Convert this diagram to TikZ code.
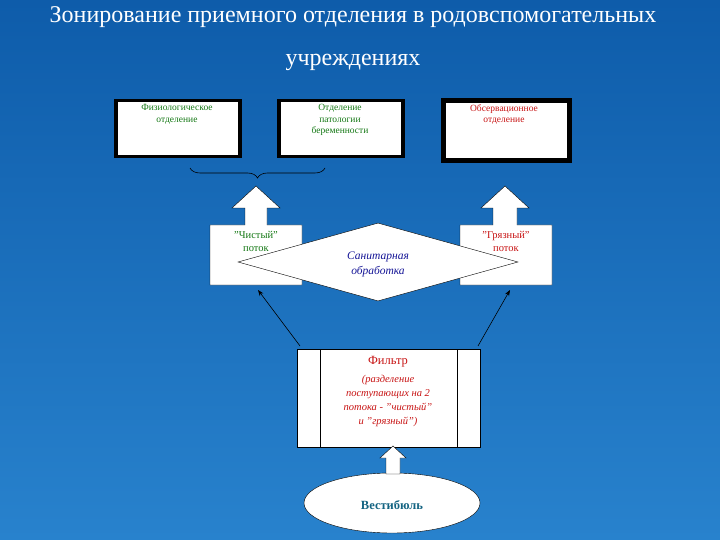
\documentclass[tikz,border=0pt]{standalone}
\usepackage{fontspec}
\setmainfont{Liberation Serif}
\usetikzlibrary{shapes.geometric,decorations.pathreplacing,arrows.meta}
\definecolor{bgtop}{RGB}{14,92,170}
\definecolor{bgbot}{RGB}{40,130,205}
\definecolor{grn}{RGB}{20,120,20}
\definecolor{rd}{RGB}{200,20,20}
\definecolor{bl}{RGB}{20,20,150}
\definecolor{teal}{RGB}{20,100,130}
\begin{document}
\begin{tikzpicture}[x=1pt,y=-1pt,
  dept/.style={draw=black,line width=3.5pt,fill=white,minimum width=124pt,minimum height=56pt,anchor=north west,inner sep=0pt},
  dtext/.style={font=\fontsize{9.5}{11.5}\selectfont,align=center,anchor=north},
  flow/.style={draw=black,fill=white,line width=0.4pt},
  thin/.style={-{Stealth[length=6pt]},line width=0.6pt,black}]
\shade[top color=bgtop,bottom color=bgbot] (0,0) rectangle (720,540);
\useasboundingbox (0,0) rectangle (720,540);
\node[white,font=\fontsize{24}{28}\selectfont] (t1) at (353,17) {Зонирование приемного отделения в родовспомогательных};
\node[white,font=\fontsize{24}{28}\selectfont] (t2) at (353,62) {учреждениях};
% departments
\node[dept] (b1) at (114,99) {};
\node[dept] (b2) at (277,99) {};
\node[dept,line width=5pt,minimum width=126pt,minimum height=60pt] (b3) at (441,98) {};
\node[dtext,text=grn] (l1) at (177,101) {Физиологическое\\отделение};
\node[dtext,text=grn] (l2) at (340,101) {Отделение\\патологии\\беременности};
\node[dtext,text=rd] (l3) at (504,101) {Обсервационное\\отделение};
\coordinate (bs) at (190,168); \coordinate (be) at (325,168);
\draw[decorate,decoration={brace,mirror,amplitude=10pt},black,line width=0.6pt] (bs) -- (be);
% flow block arrows
\draw[flow] (210,285) -- (210,225) -- (245,225) -- (245,208) -- (232,208) -- (256,186) -- (280,208) -- (267,208) -- (267,225) -- (302,225) -- (302,285) -- cycle;
\draw[flow] (460,285) -- (460,225) -- (493,225) -- (493,208) -- (481,208) -- (505,186) -- (529,208) -- (517,208) -- (517,225) -- (552,225) -- (552,285) -- cycle;
\node[font=\fontsize{10.5}{12.5}\selectfont,text=grn,align=center,anchor=north] (c) at (256,228) {"Чистый"\\поток};
\node[font=\fontsize{10.5}{12.5}\selectfont,text=rd,align=center,anchor=north] (g) at (506,228) {"Грязный"\\поток};
\node[diamond,draw=black,fill=white,aspect=3.6,minimum width=280pt,minimum height=78pt,inner sep=0pt] (d) at (378,262) {};
\node[font=\itshape\fontsize{11.5}{15}\selectfont,text=bl,align=center] (dl) at (378,264) {Санитарная\\обработка};
% filter
\node[draw=black,fill=white,minimum width=183pt,minimum height=98pt,anchor=north west,inner sep=0pt] (f) at (297,349) {};
\draw (320,349) -- (320,447) (457,349) -- (457,447);
\node[text=rd,font=\fontsize{12.5}{14}\selectfont] (fl) at (388,362) {Фильтр};
\node[text=rd,font=\itshape\fontsize{10.5}{14}\selectfont,align=center,anchor=north] (fl2) at (388,372) {(разделение\\поступающих на 2\\потока - "чистый"\\и "грязный")};
\coordinate (fa) at (300,346); \coordinate (fb) at (478,346);
\coordinate (ca) at (258,290); \coordinate (ga) at (510,290);
\draw[thin] (fa) -- (ca);
\draw[thin] (fb) -- (ga);
% vestibule
\node[ellipse,draw=black,fill=white,minimum width=176pt,minimum height=60pt] (v) at (392,503) {};
\node[text=teal,font=\bfseries\fontsize{12.5}{14}\selectfont] (vl) at (392,505) {Вестибюль};
\draw[flow] (386,474) -- (386,458) -- (380,458) -- (393,446) -- (406,458) -- (400,458) -- (400,474) -- cycle;
\end{tikzpicture}
\end{document}
